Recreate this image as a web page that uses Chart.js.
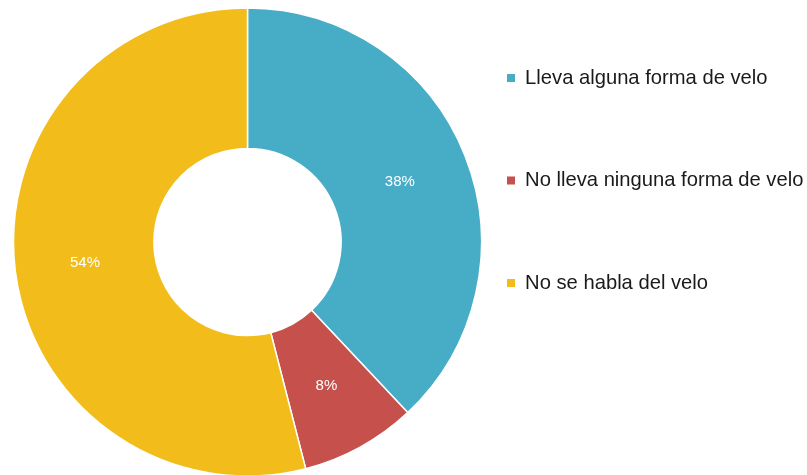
<!DOCTYPE html>
<html>
<head>
<meta charset="utf-8">
<script src="https://cdn.jsdelivr.net/npm/chart.js@4/dist/chart.umd.min.js"></script>
<style>
  html, body { margin: 0; padding: 0; background: #ffffff; overflow: hidden; }
  #wrap { position: relative; width: 900px; height: 475px; }
</style>
</head>
<body>
<div id="wrap"><canvas id="c"></canvas></div>
<script>
// ---- data ----
const categories = [
  'Lleva alguna forma de velo',
  'No lleva ninguna forma de velo',
  'No se habla del velo'
];
const percentValues = [38, 8, 54];
const sliceColors = ['#47ADC7', '#C6504B', '#F2BD1B'];

const FONT = "'Liberation Sans', Arial, Helvetica, sans-serif";
const LEGEND_SIZE = 20.2;
const LEGEND_PAD = 12;
const LEGEND_BOX = 8;
const CANVAS_W = 900;
const LEGEND_LEFT = 495;

// width of the legend as Chart.js computes it, to place it at LEGEND_LEFT
const mctx = document.createElement('canvas').getContext('2d');
mctx.font = LEGEND_SIZE + 'px ' + FONT;
const longest = Math.max(...categories.map(t => mctx.measureText(t).width));
const legendW = LEGEND_PAD + LEGEND_BOX + LEGEND_SIZE / 2 + longest + 10;
const padRight = CANVAS_W - LEGEND_LEFT - legendW;

// draws the percentage labels at the middle of each arc
const sliceLabels = {
  id: 'sliceLabels',
  afterDatasetsDraw(chart) {
    const ctx = chart.ctx;
    const meta = chart.getDatasetMeta(0);
    ctx.save();
    ctx.fillStyle = '#ffffff';
    ctx.font = '15px ' + FONT;
    ctx.textAlign = 'center';
    ctx.textBaseline = 'middle';
    meta.data.forEach((arc, i) => {
      const p = arc.getCenterPoint();
      ctx.fillText(chart.data.datasets[0].data[i] + '%', p.x, p.y);
    });
    ctx.restore();
  }
};

const baseGen = Chart.overrides.doughnut.plugins.legend.labels.generateLabels;

new Chart(document.getElementById('c'), {
  type: 'doughnut',
  data: {
    labels: categories,
    datasets: [{
      data: percentValues,
      backgroundColor: sliceColors,
      borderColor: '#ffffff',
      borderWidth: 1.5,
      clip: false
    }]
  },
  options: {
    responsive: true,
    maintainAspectRatio: false,
    animation: false,
    radius: 234,
    cutout: '40%',
    layout: {
      padding: { top: 55.9, bottom: 46.9, left: 0, right: padRight }
    },
    plugins: {
      tooltip: { enabled: false },
      legend: {
        position: 'right',
        align: 'start',
        labels: {
          boxWidth: LEGEND_BOX,
          boxHeight: LEGEND_BOX,
          padding: LEGEND_PAD,
          color: '#1a1a1a',
          font: { family: FONT, size: LEGEND_SIZE, lineHeight: (102.5 - LEGEND_PAD) + 'px' },
          generateLabels(chart) {
            return baseGen(chart).map(item => Object.assign(item, {
              text: [item.text],
              lineWidth: 0,
              strokeStyle: 'rgba(0,0,0,0)'
            }));
          }
        }
      }
    }
  },
  plugins: [sliceLabels]
});
</script>
</body>
</html>
